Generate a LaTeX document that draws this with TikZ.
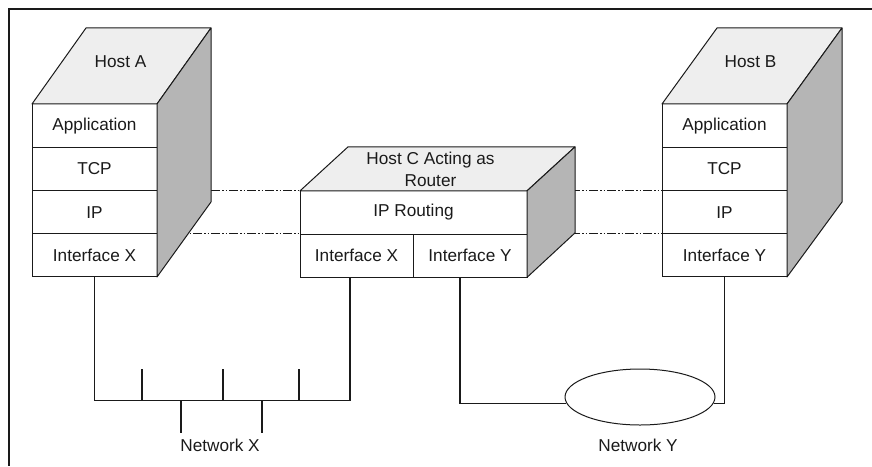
\documentclass[tikz,border=0pt]{standalone}
\usepackage{fontspec}
\setmainfont{Liberation Sans}
\usepackage{tikz}
\usetikzlibrary{positioning,calc,shapes.geometric,backgrounds}
\definecolor{topgray}{HTML}{EEEEEE}
\definecolor{sidegray}{HTML}{B5B5B5}
\definecolor{inkgray}{HTML}{1A1A1A}
\tikzset{
  hlayer/.style={draw=inkgray, line width=1pt, fill=white, minimum width=125pt, minimum height=43.25pt, inner sep=0pt, outer sep=0pt, text=inkgray, font=\fontsize{17.2}{21}\selectfont},
  hlabel/.style={text=inkgray, align=center, inner sep=0pt, font=\fontsize{17.2}{22}\selectfont},
  facetop/.style={draw=inkgray, line width=1pt, fill=topgray, line join=round},
  faceside/.style={draw=inkgray, line width=1pt, fill=sidegray, line join=round},
  netline/.style={draw=inkgray, line width=1.3pt},
  netcloud/.style={draw=inkgray, line width=1pt, ellipse, fill=white, minimum width=150pt, minimum height=56pt, inner sep=0pt},
  peerline/.style={draw=inkgray, line width=1.4pt, dash pattern=on 9pt off 2pt on 1.5pt off 2pt on 1.5pt off 2pt},
  frameline/.style={draw=inkgray, line width=1.5pt}
}
\begin{document}
\begin{tikzpicture}[x=1pt,y=-1pt]
\useasboundingbox (0,0) rectangle (872,466);
\draw[frameline] (872,9) -- (9,9) -- (9,466);

% Host A
\node[hlayer] (appA) at (94.5,125.6) {Application};
\node[hlayer, below=0pt of appA] (tcpA) {TCP};
\node[hlayer, below=0pt of tcpA] (ipA) {IP};
\node[hlayer, below=0pt of ipA] (ifA) {Interface X};
\draw[facetop] (appA.north west) -- ++(54,-76) -- ++(125,0) -- (appA.north east) -- cycle;
\draw[faceside] (appA.north east) -- ++(54,-76) -- ++(0,174) -- (ifA.south east) -- cycle;
\node[hlabel] (hostA) at ($(appA.north)+(26,-42)$) {Host A};

% Host C (router)
\node[hlayer, minimum width=227pt] (routeC) at (413.5,212.5) {IP Routing};
\node[hlayer, minimum width=113pt, below right=0pt and 0pt of routeC.south west] (ifCX) {Interface X};
\node[hlayer, minimum width=114pt, right=0pt of ifCX] (ifCY) {Interface Y};
\draw[facetop] (routeC.north west) -- ++(48,-44) -- ++(227,0) -- (routeC.north east) -- cycle;
\draw[faceside] (routeC.north east) -- ++(48,-44) -- ++(0,86) -- (ifCY.south east) -- cycle;
\node[hlabel] (hostC) at ($(routeC.north)+(17,-22)$) {Host C Acting as\\Router};

% Host B
\node[hlayer] (appB) at (724.5,125.6) {Application};
\node[hlayer, below=0pt of appB] (tcpB) {TCP};
\node[hlayer, below=0pt of tcpB] (ipB) {IP};
\node[hlayer, below=0pt of ipB] (ifB) {Interface Y};
\draw[facetop] (appB.north west) -- ++(55,-76) -- ++(125,0) -- (appB.north east) -- cycle;
\draw[faceside] (appB.north east) -- ++(55,-76) -- ++(0,174) -- (ifB.south east) -- cycle;
\node[hlabel] (hostB) at ($(appB.north)+(26,-42)$) {Host B};

% peer lines behind the boxes
\begin{scope}[on background layer]
\draw[peerline] (ipA.north east) -- (ipB.north west);
\draw[peerline] (ipA.south east) -- (ipB.south west);
\end{scope}

% Network X
\coordinate (cX) at ($(ifCX.south)+(-6.5,0)$);
\draw[netline] (ifA.south) |- ($(cX)+(0,123)$) -- (cX);
\foreach \x in {142,223,299} \draw[netline] (\x,400) -- ++(0,-31);
\foreach \x in {181,262} \draw[netline] (\x,400) -- ++(0,33);
\node[hlabel] (netX) at (220,445) {Network X};

% Network Y
\node[netcloud] (netY) at (640,397) {};
\coordinate (cY) at ($(ifCY.south)+(-10,0)$);
\draw[netline] (cY) |- (netY.185);
\draw[netline] (ifB.south) |- (netY.-5);
\node[hlabel] (labY) at (638,445) {Network Y};
\end{tikzpicture}
\end{document}
